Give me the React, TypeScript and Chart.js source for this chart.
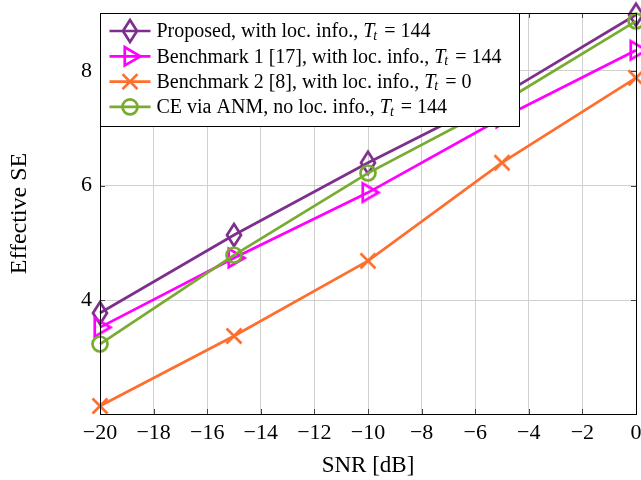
import React, { useEffect, useRef } from "react";
import { Chart, registerables } from "chart.js";

Chart.register(...registerables);

const snr = [-20, -15, -10, -5, 0];
const proposed = [3.78, 5.14, 6.4, 7.58, 8.98];
const bench1 = [3.53, 4.74, 5.88, 7.18, 8.36];
const bench2 = [2.16, 3.38, 4.69, 6.4, 7.88];
const ceAnm = [3.24, 4.79, 6.22, 7.45, 8.87];

const xTicks = [-20, -18, -16, -14, -12, -10, -8, -6, -4, -2, 0];
const yTicks = [4, 6, 8];

const labels = [
  { pre: "Proposed, with loc. info., ", post: " = 144" },
  { pre: "Benchmark 1 [17], with loc. info., ", post: " = 144" },
  { pre: "Benchmark 2 [8], with loc. info., ", post: " = 0" },
  { pre: "CE via ANM, no loc. info., ", post: " = 144" },
];

const colors = ["#7E2F8E", "#FF00FF", "#FF6E2D", "#77AC30"];
const kinds = ["diamond", "triangle", "cross", "circle"];

const FONT = "'Liberation Serif', 'Times New Roman', serif";
const LW = 2.7;

function drawMarker(ctx: CanvasRenderingContext2D, kind: string, color: string, cx: number, cy: number) {
  ctx.save();
  ctx.strokeStyle = color;
  ctx.lineWidth = LW;
  ctx.lineJoin = "miter";
  ctx.beginPath();
  if (kind === "diamond") {
    ctx.moveTo(cx, cy - 11);
    ctx.lineTo(cx + 7, cy);
    ctx.lineTo(cx, cy + 11);
    ctx.lineTo(cx - 7, cy);
    ctx.closePath();
  } else if (kind === "triangle") {
    const r = 10.5;
    ctx.moveTo(cx + r, cy);
    ctx.lineTo(cx - r / 2, cy - r * 0.866);
    ctx.lineTo(cx - r / 2, cy + r * 0.866);
    ctx.closePath();
  } else if (kind === "cross") {
    const d = 7.5;
    ctx.moveTo(cx - d, cy - d);
    ctx.lineTo(cx + d, cy + d);
    ctx.moveTo(cx - d, cy + d);
    ctx.lineTo(cx + d, cy - d);
  } else {
    ctx.arc(cx, cy, 7.5, 0, Math.PI * 2);
  }
  ctx.stroke();
  ctx.restore();
}

function makeMarker(kind: string, color: string): HTMLCanvasElement {
  const c = document.createElement("canvas");
  c.width = 30;
  c.height = 30;
  const ctx = c.getContext("2d")!;
  drawMarker(ctx, kind, color, 15, 15);
  return c;
}

const frame = {
  id: "frame",
  afterDraw(chart: any) {
    const { ctx, chartArea: a, scales } = chart;
    ctx.save();
    // inner tick marks
    ctx.strokeStyle = "#444";
    ctx.lineWidth = 1;
    ctx.beginPath();
    for (const v of xTicks) {
      const px = Math.round(scales.x.getPixelForValue(v)) + 0.5;
      ctx.moveTo(px, a.bottom);
      ctx.lineTo(px, a.bottom - 5);
      ctx.moveTo(px, a.top);
      ctx.lineTo(px, a.top + 5);
    }
    for (const v of yTicks) {
      const py = Math.round(scales.y.getPixelForValue(v)) + 0.5;
      ctx.moveTo(a.left, py);
      ctx.lineTo(a.left + 5, py);
      ctx.moveTo(a.right, py);
      ctx.lineTo(a.right - 5, py);
    }
    ctx.stroke();
    ctx.strokeStyle = "#000";
    ctx.lineWidth = 1;
    ctx.strokeRect(a.left + 0.5, a.top + 0.5, a.right - a.left, a.bottom - a.top);

    // legend
    const lx = a.left + 0.5;
    const ly = a.top + 0.5;
    const lw = 419;
    const lh = 113;
    ctx.fillStyle = "#fff";
    ctx.fillRect(lx, ly, lw, lh);
    ctx.strokeStyle = "#000";
    ctx.strokeRect(lx, ly, lw, lh);
    const rowY0 = a.top + 18;
    const rowGap = 25.3;
    for (let i = 0; i < labels.length; i++) {
      const y = rowY0 + i * rowGap;
      ctx.strokeStyle = colors[i];
      ctx.lineWidth = LW;
      ctx.beginPath();
      ctx.moveTo(lx + 9, y);
      ctx.lineTo(lx + 50, y);
      ctx.stroke();
      drawMarker(ctx, kinds[i], colors[i], lx + 29.5, y);
      let tx = lx + 56;
      ctx.fillStyle = "#000";
      ctx.textBaseline = "middle";
      ctx.textAlign = "left";
      ctx.font = `20px ${FONT}`;
      ctx.fillText(labels[i].pre, tx, y + 1);
      tx += ctx.measureText(labels[i].pre).width;
      ctx.font = `italic 20px ${FONT}`;
      ctx.fillText("T", tx, y + 1);
      tx += ctx.measureText("T").width - 1;
      ctx.font = `italic 14px ${FONT}`;
      ctx.fillText("t", tx, y + 5);
      tx += ctx.measureText("t").width + 2;
      ctx.font = `20px ${FONT}`;
      ctx.fillText(labels[i].post, tx, y + 1);
    }
    ctx.restore();
  },
};

export default function App() {
  const ref = useRef<HTMLCanvasElement>(null);
  useEffect(() => {
    document.body.style.margin = "0";
    const series = [proposed, bench1, bench2, ceAnm];
    const chart = new Chart(ref.current!, {
      type: "line",
      data: {
        labels: snr,
        datasets: series.map((s, i) => ({
          label: labels[i].pre,
          data: snr.map((x, j) => ({ x, y: s[j] })),
          borderColor: colors[i],
          backgroundColor: colors[i],
          borderWidth: LW,
          pointStyle: makeMarker(kinds[i], colors[i]) as any,
          pointRadius: 10,
          tension: 0,
          fill: false,
          clip: false as any,
          order: 3 - i,
        })),
      },
      options: {
        animation: false,
        responsive: false,
        devicePixelRatio: 1,
        layout: { autoPadding: false, padding: { top: 13, right: 5, left: 0, bottom: 0 } },
        plugins: { legend: { display: false }, tooltip: { enabled: false } },
        scales: {
          x: {
            type: "linear",
            min: -20,
            max: 0,
            afterBuildTicks: (axis: any) => {
              axis.ticks = xTicks.map((v) => ({ value: v }));
            },
            afterFit: (s: any) => {
              s.height = 66;
              s.paddingLeft = 0;
              s.paddingRight = 0;
            },
            ticks: {
              font: { family: FONT, size: 22 },
              color: "#000",
              padding: 6,
              maxRotation: 0,
              autoSkip: false,
              callback: (v: any) => String(v).replace("-", "\u2212"),
            },
            grid: { color: "#d0d0d0", drawTicks: false, lineWidth: 1 },
            border: { display: true, color: "#000", width: 1 },
            title: {
              display: true,
              text: "SNR [dB]",
              font: { family: FONT, size: 23 },
              color: "#000",
              padding: { top: 0, bottom: 0 },
            },
          },
          y: {
            type: "linear",
            min: 2.02,
            max: 9.01,
            afterBuildTicks: (axis: any) => {
              axis.ticks = yTicks.map((v) => ({ value: v }));
            },
            afterFit: (s: any) => {
              s.width = 100;
              s.paddingTop = 0;
              s.paddingBottom = 0;
            },
            ticks: {
              font: { family: FONT, size: 22 },
              color: "#000",
              padding: 8,
            },
            grid: { color: "#d0d0d0", drawTicks: false, lineWidth: 1 },
            border: { display: true, color: "#000", width: 1 },
            title: {
              display: true,
              text: "Effective SE",
              font: { family: FONT, size: 24 },
              color: "#000",
              padding: { top: 5, bottom: 0 },
            },
          },
        },
      },
      plugins: [frame],
    });
    return () => chart.destroy();
  }, []);
  return (
    <div style={{ width: 641, height: 480 }}>
      <canvas ref={ref} width={641} height={480} style={{ display: "block" }} />
    </div>
  );
}
